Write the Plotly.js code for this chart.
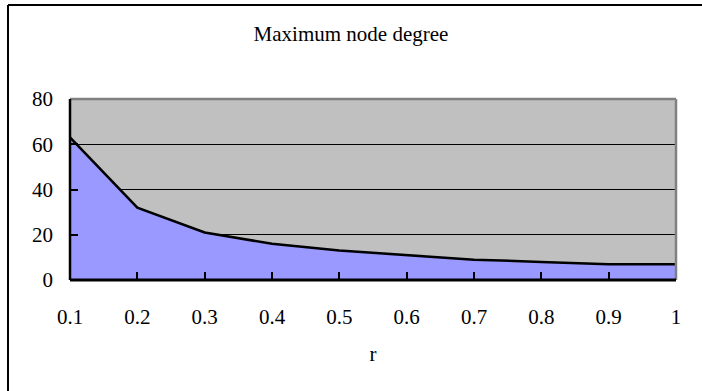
<!DOCTYPE html>
<html>
<head>
<meta charset="utf-8">
<script src="https://cdn.plot.ly/plotly-3.0.1.min.js"></script>
<style>html,body{margin:0;padding:0;background:#fff;}#chart{width:702px;height:391px;}</style>
</head>
<body>
<div id="chart"></div>
<script>
const categories = ['0.1','0.2','0.3','0.4','0.5','0.6','0.7','0.8','0.9','1'];
const maxDegree = [63, 32, 21, 16, 13, 11, 9, 8, 7, 7];
const yTicks = [0, 20, 40, 60, 80];
const chartTitle = 'Maximum node degree';
const xTitle = 'r';

const W = 702, H = 391;
const L = 70, R = 26, T = 99, B = 111;
const pw = W - L - R, ph = H - T - B;
const px = v => (v - L) / pw;
const py = v => (H - B - v) / ph;
const font = 'Liberation Serif';

const trace = {
  type: 'scatter', mode: 'lines',
  x: categories, y: maxDegree,
  fill: 'tozeroy', fillcolor: '#9999FF',
  line: {color: '#000000', width: 2.5},
  hoverinfo: 'skip'
};

const layout = {
  width: W, height: H,
  margin: {l: L, r: R, t: T, b: B, pad: 0},
  paper_bgcolor: '#ffffff', plot_bgcolor: '#C0C0C0',
  showlegend: false,
  font: {family: font, size: 21, color: '#000'},
  title: {text: chartTitle, font: {family: font, size: 21, color: '#000'},
          x: 0.5, xref: 'container', xanchor: 'center', y: 1 - 34/H, yref: 'container', yanchor: 'middle'},
  xaxis: {
    type: 'category', range: [0, categories.length - 1],
    showgrid: false, zeroline: false,
    showline: false, layer: 'above traces',
    ticks: 'inside', ticklen: 8, tickwidth: 2, tickcolor: '#000000',
    ticklabelstandoff: 22,
    tickfont: {family: font, size: 21, color: '#000'},
    title: {text: xTitle, font: {family: font, size: 21, color: '#000'}, standoff: 18}
  },
  yaxis: {
    range: [0, 80], tickvals: yTicks, ticktext: yTicks.map(String),
    showgrid: true, gridcolor: '#000', gridwidth: 1,
    zeroline: false, showline: false, layer: 'above traces',
    ticks: 'inside', ticklen: 8, tickwidth: 2, tickcolor: '#000000',
    ticklabelstandoff: 16,
    tickfont: {family: font, size: 21, color: '#000'}
  },
  shapes: [
    {type: 'line', xref: 'paper', yref: 'paper', x0: 0, x1: 1, y0: 1, y1: 1, line: {color: '#808080', width: 2.5}, layer: 'above'},
    {type: 'line', xref: 'paper', yref: 'paper', x0: 1, x1: 1, y0: 0, y1: 1, line: {color: '#808080', width: 2.5}, layer: 'above'},
    {type: 'line', xref: 'paper', yref: 'paper', x0: 0, x1: 0, y0: 0, y1: 1, line: {color: '#000', width: 2.5}, layer: 'above'},
    {type: 'line', xref: 'paper', yref: 'paper', x0: 0, x1: 1, y0: 0, y1: 0, line: {color: '#000', width: 3}, layer: 'above'},
    {type: 'line', xref: 'paper', yref: 'paper', x0: px(8), x1: px(8), y0: py(5), y1: py(400), line: {color: '#000', width: 2}, layer: 'above'},
    {type: 'line', xref: 'paper', yref: 'paper', x0: px(8), x1: px(720), y0: py(5), y1: py(5), line: {color: '#000', width: 2}, layer: 'above'}
  ]
};

Plotly.newPlot('chart', [trace], layout, {staticPlot: true, displayModeBar: false});
</script>
</body>
</html>
